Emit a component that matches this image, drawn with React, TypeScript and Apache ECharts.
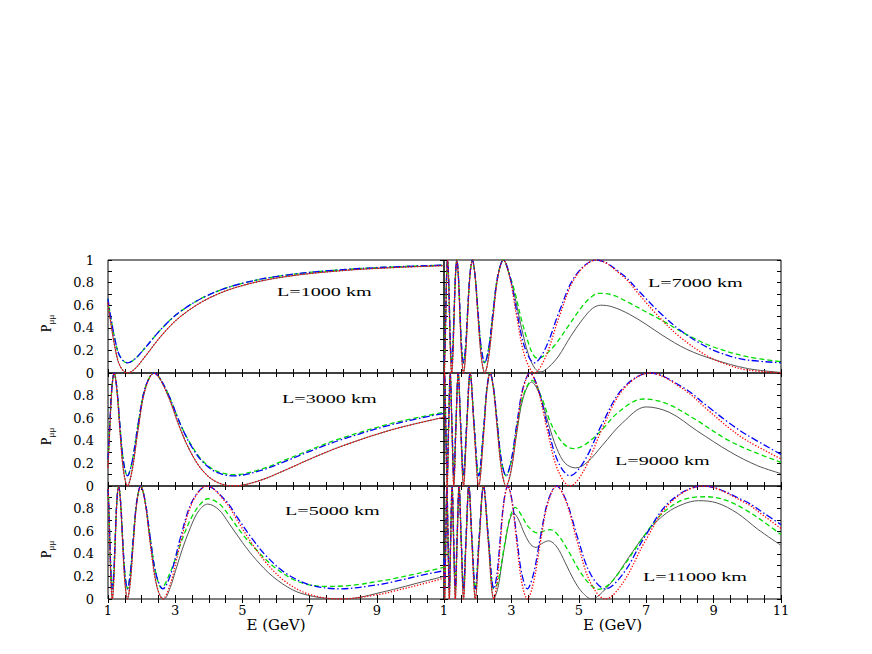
import React, { useEffect, useRef } from "react";
import * as echarts from "echarts";

// ---------- tick labels & panel titles ----------
const xTickLabelsLeft = ["1", "3", "5", "7", "9"];
const xTickLabelsRight = ["1", "3", "5", "7", "9", "11"];
const yTickLabels = ["0", "0.2", "0.4", "0.6", "0.8", "1"];
const panelTitles = ["L=1000 km", "L=3000 km", "L=5000 km", "L=7000 km", "L=9000 km", "L=11000 km"];
const xAxisTitle = "E (GeV)";

// ---------- L = 1000 km ----------
const L1000_red = [[1,0.624],[1.053,0.5],[1.263,0.146],[1.4,0.04],[1.579,0],[1.8,0.037],[2.105,0.146],[2.6,0.334],[3.158,0.5],[4,0.662],[5,0.774],[6.315,0.854],[8,0.907],[9.5,0.933],[11,0.95]];
const L1000_black = [[1,0.624],[1.053,0.5],[1.263,0.146],[1.4,0.04],[1.579,0],[1.8,0.037],[2.105,0.146],[2.6,0.334],[3.158,0.5],[4,0.662],[5,0.774],[6.315,0.854],[8,0.907],[9.5,0.933],[11,0.95]];
const L1000_blue = [[1,0.658],[1.053,0.545],[1.263,0.223],[1.4,0.126],[1.579,0.09],[1.8,0.124],[2.105,0.223],[2.6,0.394],[3.158,0.545],[4,0.692],[5,0.794],[6.315,0.867],[8,0.915],[9.5,0.939],[11,0.955]];
const L1000_green = [[1,0.658],[1.053,0.545],[1.263,0.223],[1.4,0.126],[1.579,0.09],[1.8,0.124],[2.105,0.223],[2.6,0.394],[3.158,0.545],[4,0.692],[5,0.794],[6.315,0.867],[8,0.915],[9.5,0.939],[11,0.955]];

// ---------- L = 3000 km ----------
const L3000_red = [[1,0.162],[1.053,0.5],[1.114,0.854],[1.184,1],[1.263,0.854],[1.353,0.5],[1.457,0.146],[1.579,0],[1.722,0.146],[1.895,0.5],[2.105,0.854],[2.368,1],[2.707,0.854],[3.158,0.5],[3.45,0.306],[3.789,0.146],[4.2,0.04],[4.737,0],[5.5,0.047],[6.315,0.146],[7.1,0.25],[8,0.357],[9.473,0.5],[11,0.608]];
const L3000_black = [[1,0.162],[1.053,0.5],[1.114,0.854],[1.184,1],[1.263,0.854],[1.353,0.5],[1.457,0.146],[1.579,0],[1.722,0.146],[1.895,0.5],[2.105,0.854],[2.368,1],[2.707,0.854],[3.158,0.5],[3.45,0.306],[3.789,0.146],[4.2,0.04],[4.737,0],[5.5,0.047],[6.315,0.146],[7.1,0.25],[8,0.357],[9.473,0.5],[11,0.608]];
const L3000_blue = [[1,0.237],[1.053,0.545],[1.114,0.867],[1.184,1],[1.263,0.867],[1.353,0.545],[1.457,0.223],[1.579,0.09],[1.722,0.223],[1.895,0.545],[2.105,0.867],[2.368,1],[2.707,0.867],[3.158,0.545],[3.45,0.368],[3.789,0.223],[4.2,0.126],[4.737,0.09],[5.5,0.133],[6.315,0.223],[7.1,0.318],[8,0.415],[9.473,0.545],[11,0.643]];
const L3000_green = [[1,0.237],[1.053,0.545],[1.114,0.867],[1.184,1],[1.263,0.867],[1.353,0.545],[1.457,0.223],[1.579,0.09],[1.722,0.223],[1.895,0.545],[2.105,0.867],[2.368,1],[2.707,0.867],[3.158,0.545],[3.45,0.378],[3.789,0.232],[4.2,0.136],[4.737,0.1],[5.5,0.143],[6.315,0.235],[7.1,0.33],[8,0.428],[9.473,0.556],[11,0.652]];

// ---------- L = 5000 km ----------
const L5000_lowRed = [[1,0.973],[1.019,0.854],[1.053,0.5],[1.089,0.146],[1.128,0],[1.17,0.146],[1.215,0.5],[1.263,0.854],[1.316,1],[1.373,0.854],[1.435,0.5],[1.504,0.146],[1.579,0],[1.662,0.146],[1.754,0.5],[1.857,0.854],[1.974,1],[2.105,0.854],[2.256,0.5],[2.429,0.146]];
const L5000_redHigh = [[2.631,0],[2.871,0.146],[3.158,0.5],[3.509,0.854],[3.947,1],[4.511,0.854],[4.85,0.695],[5.263,0.5],[5.75,0.306],[6.315,0.146],[7,0.04],[7.894,0],[9.022,0.038],[9.5,0.069],[10.526,0.146],[11,0.185]];
const L5000_blackHigh = [[2.55,0.03],[2.67,0],[2.85,0.1],[3.0,0.24],[3.2,0.43],[3.45,0.63],[3.7,0.78],[3.97,0.84],[4.3,0.79],[4.6,0.67],[5.0,0.5],[5.4,0.35],[5.9,0.2],[6.5,0.08],[7.0,0.03],[7.5,0.006],[8.0,0],[8.5,0.015],[9.0,0.05],[9.5,0.085],[10.2,0.14],[11,0.2]];
const L5000_lowBlue = [[1,0.975],[1.019,0.867],[1.053,0.545],[1.089,0.223],[1.128,0.09],[1.17,0.223],[1.215,0.545],[1.263,0.867],[1.316,1],[1.373,0.867],[1.435,0.545],[1.504,0.223],[1.579,0.09],[1.662,0.223],[1.754,0.545],[1.857,0.867],[1.974,1],[2.105,0.867],[2.256,0.545],[2.429,0.223]];
const L5000_blueHigh = [[2.631,0.09],[2.871,0.223],[3.158,0.545],[3.509,0.867],[3.947,1],[4.511,0.867],[4.85,0.722],[5.263,0.545],[5.75,0.368],[6.315,0.223],[7,0.126],[7.894,0.09],[9.022,0.125],[9.5,0.153],[10.526,0.223],[11,0.25]];
const L5000_greenHigh = [[2.6,0.095],[2.8,0.2],[3.0,0.35],[3.25,0.56],[3.5,0.73],[3.75,0.84],[3.97,0.887],[4.3,0.845],[4.6,0.74],[5.0,0.575],[5.4,0.44],[5.9,0.295],[6.5,0.175],[7.0,0.125],[7.5,0.112],[8.0,0.115],[8.5,0.13],[9.0,0.155],[9.5,0.18],[10.2,0.225],[11,0.28]];

// ---------- L = 7000 km ----------
const L7000_lowRed = [[1,0.007],[1.005,0],[1.028,0.146],[1.053,0.5],[1.078,0.854],[1.105,1],[1.134,0.854],[1.163,0.5],[1.195,0.146],[1.228,0],[1.263,0.146],[1.3,0.5],[1.34,0.854],[1.381,1],[1.426,0.854],[1.474,0.5],[1.524,0.146],[1.579,0],[1.637,0.146],[1.7,0.5],[1.768,0.854],[1.842,1],[1.922,0.854],[2.009,0.5],[2.105,0.146],[2.21,0],[2.327,0.146],[2.456,0.5],[2.6,0.854],[2.763,1],[2.947,0.854]];
const L7000_redHigh = [[3.158,0.5],[3.4,0.146],[3.684,0],[4.019,0.146],[4.421,0.5],[4.912,0.854],[5.526,1],[6.315,0.854],[6.8,0.691],[7.368,0.5],[8,0.319],[8.84,0.146],[9.5,0.064],[10,0.027],[11,0]];
const L7000_blackHigh = [[3.1,0.68],[3.3,0.4],[3.5,0.17],[3.7,0.04],[3.88,0.01],[4.1,0.05],[4.4,0.15],[4.75,0.32],[5.1,0.47],[5.4,0.57],[5.65,0.6],[6.0,0.585],[6.5,0.52],[7.0,0.43],[7.5,0.33],[8.2,0.21],[9.0,0.12],[10.0,0.04],[11,0.005]];
const L7000_lowBlue = [[1,0.096],[1.005,0.09],[1.028,0.223],[1.053,0.545],[1.078,0.867],[1.105,1],[1.134,0.867],[1.163,0.545],[1.195,0.223],[1.228,0.09],[1.263,0.223],[1.3,0.545],[1.34,0.867],[1.381,1],[1.426,0.867],[1.474,0.545],[1.524,0.223],[1.579,0.09],[1.637,0.223],[1.7,0.545],[1.768,0.867],[1.842,1],[1.922,0.867],[2.009,0.545],[2.105,0.223],[2.21,0.09],[2.327,0.223],[2.456,0.545],[2.6,0.867],[2.763,1],[2.947,0.867]];
const L7000_blueHigh = [[3.158,0.545],[3.4,0.223],[3.684,0.09],[4.019,0.223],[4.421,0.545],[4.912,0.867],[5.526,1],[6.315,0.867],[6.8,0.719],[7.368,0.545],[8,0.38],[8.84,0.223],[9.5,0.148],[10,0.115],[11,0.09]];
const L7000_greenHigh = [[3.1,0.72],[3.3,0.47],[3.5,0.27],[3.65,0.16],[3.78,0.13],[4.0,0.16],[4.3,0.25],[4.7,0.42],[5.1,0.59],[5.4,0.68],[5.6,0.705],[6.0,0.69],[6.5,0.62],[7.0,0.54],[7.5,0.46],[8.2,0.34],[9.0,0.23],[10.0,0.145],[11,0.1]];

// ---------- L = 9000 km ----------
const L9000_lowRed = [[1,0.896],[1.015,1],[1.053,0.5],[1.093,0],[1.137,0.5],[1.184,1],[1.236,0.5],[1.292,0],[1.353,0.5],[1.421,1],[1.496,0.5],[1.579,0],[1.672,0.5],[1.776,1],[1.895,0.5],[2.03,0],[2.186,0.5],[2.274,0.854],[2.368,1],[2.471,0.854],[2.584,0.5],[2.707,0.146],[2.842,0]];
const L9000_redHigh = [[2.991,0.146],[3.158,0.5],[3.343,0.854],[3.552,1],[3.789,0.854],[4.06,0.5],[4.372,0.146],[4.737,0],[5.167,0.146],[5.684,0.5],[6.315,0.854],[7.105,1],[8.12,0.854],[8.8,0.68],[9.473,0.51],[10,0.4],[11,0.24]];
const L9000_blackHigh = [[2.99,0.13],[3.16,0.47],[3.35,0.78],[3.6,0.92],[3.85,0.8],[4.1,0.55],[4.35,0.33],[4.6,0.2],[4.91,0.16],[5.25,0.21],[5.7,0.36],[6.3,0.56],[7.0,0.7],[7.7,0.65],[8.5,0.49],[9.5,0.3],[10.3,0.18],[11,0.11]];
const L9000_lowBlue = [[1,0.905],[1.015,1],[1.053,0.545],[1.093,0.09],[1.137,0.545],[1.184,1],[1.236,0.545],[1.292,0.09],[1.353,0.545],[1.421,1],[1.496,0.545],[1.579,0.09],[1.672,0.545],[1.776,1],[1.895,0.545],[2.03,0.09],[2.186,0.545],[2.274,0.867],[2.368,1],[2.471,0.867],[2.584,0.545],[2.707,0.223],[2.842,0.09]];
const L9000_blueHigh = [[2.991,0.223],[3.158,0.545],[3.343,0.867],[3.552,1],[3.789,0.867],[4.06,0.545],[4.372,0.223],[4.737,0.09],[5.167,0.223],[5.684,0.545],[6.315,0.867],[7.105,1],[8.12,0.867],[8.8,0.71],[9.473,0.555],[10,0.45],[11,0.28]];
const L9000_greenHigh = [[2.99,0.21],[3.16,0.52],[3.35,0.8],[3.62,0.935],[3.9,0.78],[4.15,0.57],[4.4,0.43],[4.62,0.355],[4.84,0.33],[5.15,0.36],[5.6,0.47],[6.2,0.66],[6.92,0.77],[7.6,0.73],[8.4,0.6],[9.4,0.41],[10.2,0.3],[11,0.21]];

// ---------- L = 11000 km ----------
const L11000_lowRed = [[1,0.297],[1.022,0],[1.053,0.5],[1.085,1],[1.12,0.5],[1.158,0],[1.198,0.5],[1.241,1],[1.286,0.5],[1.336,0],[1.389,0.5],[1.447,1],[1.51,0.5],[1.579,0],[1.654,0.5],[1.737,1],[1.828,0.5],[1.93,0],[2.043,0.5],[2.171,1],[2.316,0.5],[2.481,0]];
const L11000_redHigh = [[2.573,0.146],[2.672,0.5],[2.779,0.854],[2.894,1],[3.02,0.854],[3.158,0.5],[3.308,0.146],[3.473,0],[3.656,0.146],[3.859,0.5],[4.086,0.854],[4.342,1],[4.631,0.854],[4.962,0.5],[5.344,0.146],[5.789,0],[6.315,0.146],[6.947,0.5],[7.719,0.854],[8.684,1],[9.924,0.854],[10.5,0.734],[11,0.624]];
const L11000_blackHigh = [[2.6,0.1],[2.72,0.32],[2.85,0.56],[2.96,0.71],[3.06,0.76],[3.2,0.71],[3.4,0.57],[3.58,0.48],[3.73,0.457],[3.9,0.49],[4.1,0.515],[4.35,0.46],[4.6,0.32],[4.85,0.17],[5.1,0.06],[5.39,0],[5.7,0.06],[6.1,0.2],[6.6,0.42],[7.1,0.62],[7.6,0.76],[8.1,0.84],[8.55,0.87],[9.1,0.85],[9.7,0.76],[10.3,0.62],[11,0.475]];
const L11000_lowBlue = [[1,0.36],[1.022,0.09],[1.053,0.545],[1.085,1],[1.12,0.545],[1.158,0.09],[1.198,0.545],[1.241,1],[1.286,0.545],[1.336,0.09],[1.389,0.545],[1.447,1],[1.51,0.545],[1.579,0.09],[1.654,0.545],[1.737,1],[1.828,0.545],[1.93,0.09],[2.043,0.545],[2.171,1],[2.316,0.545],[2.481,0.09]];
const L11000_blueHigh = [[2.573,0.223],[2.672,0.545],[2.779,0.867],[2.894,1],[3.02,0.867],[3.158,0.545],[3.308,0.223],[3.473,0.09],[3.656,0.223],[3.859,0.545],[4.086,0.867],[4.342,1],[4.631,0.867],[4.962,0.545],[5.344,0.223],[5.789,0.09],[6.315,0.223],[6.947,0.545],[7.719,0.867],[8.684,1],[9.924,0.867],[10.5,0.758],[11,0.658]];
const L11000_greenHigh = [[2.6,0.15],[2.75,0.4],[2.9,0.65],[3.0,0.76],[3.11,0.81],[3.3,0.74],[3.5,0.64],[3.77,0.585],[3.95,0.6],[4.15,0.614],[4.4,0.56],[4.7,0.42],[5.0,0.26],[5.3,0.14],[5.58,0.086],[5.9,0.13],[6.35,0.3],[6.85,0.52],[7.35,0.72],[7.9,0.85],[8.4,0.9],[8.8,0.905],[9.4,0.87],[10.0,0.78],[10.5,0.68],[11,0.57]];

// ---------- panel data (col 0 = left, col 1 = right) ----------
const panelData = [
  { title: panelTitles[0], col: 0, row: 0, black: L1000_black, green: L1000_green, blue: L1000_blue, red: L1000_red },
  { title: panelTitles[1], col: 0, row: 1, black: L3000_black, green: L3000_green, blue: L3000_blue, red: L3000_red },
  { title: panelTitles[2], col: 0, row: 2, black: [...L5000_lowRed, ...L5000_blackHigh], green: [...L5000_lowBlue, ...L5000_greenHigh], blue: [...L5000_lowBlue, ...L5000_blueHigh], red: [...L5000_lowRed, ...L5000_redHigh] },
  { title: panelTitles[3], col: 1, row: 0, black: [...L7000_lowRed, ...L7000_blackHigh], green: [...L7000_lowBlue, ...L7000_greenHigh], blue: [...L7000_lowBlue, ...L7000_blueHigh], red: [...L7000_lowRed, ...L7000_redHigh] },
  { title: panelTitles[4], col: 1, row: 1, black: [...L9000_lowRed, ...L9000_blackHigh], green: [...L9000_lowBlue, ...L9000_greenHigh], blue: [...L9000_lowBlue, ...L9000_blueHigh], red: [...L9000_lowRed, ...L9000_redHigh] },
  { title: panelTitles[5], col: 1, row: 2, black: [...L11000_lowRed, ...L11000_blackHigh], green: [...L11000_lowBlue, ...L11000_greenHigh], blue: [...L11000_lowBlue, ...L11000_blueHigh], red: [...L11000_lowRed, ...L11000_redHigh] },
];

// ---------- layout ----------
const COL_LEFT = [108, 444];
const COL_WIDTH = [336, 337];
const ROW_TOP = [260, 373, 486];
const ROW_HEIGHT = 113;
const TITLE_POS = [
  [277, 292],
  [282, 399],
  [285, 511],
  [648, 283],
  [615, 461],
  [643, 577],
];

const LINE_STYLES = [
  { key: "black", color: "#555555", width: 1, type: "solid" as any },
  { key: "green", color: "#00dd00", width: 1.3, type: [5, 3] as any },
  { key: "blue", color: "#0000ff", width: 1.3, type: [7, 2.5, 1.5, 2.5] as any },
  { key: "red", color: "#ff0000", width: 1.3, type: [1.3, 1.7] as any },
];

const TICK_FONT = "DejaVu Serif";

function buildOption() {
  const grid: any[] = [];
  const xAxis: any[] = [];
  const yAxis: any[] = [];
  const series: any[] = [];
  const graphic: any[] = [];

  panelData.forEach((p, i) => {
    grid.push({
      left: COL_LEFT[p.col],
      top: ROW_TOP[p.row],
      width: COL_WIDTH[p.col],
      height: ROW_HEIGHT,
      show: true,
      borderColor: "#000",
      borderWidth: 1,
      backgroundColor: "transparent",
      containLabel: false,
    });
    const tick = { show: true, inside: true, length: 4, lineStyle: { color: "#000", width: 1 } };
    const xLabels = p.col === 0 ? xTickLabelsLeft : xTickLabelsRight;
    const bottomRow = p.row === 2;
    xAxis.push({
      gridIndex: i,
      type: "value",
      min: 1,
      max: 11,
      interval: 0.5,
      position: "bottom",
      axisLine: { show: false },
      axisTick: tick,
      splitLine: { show: false },
      axisLabel: bottomRow
        ? {
            show: true,
            margin: 5,
            color: "#000",
            fontFamily: TICK_FONT,
            fontSize: 13,
            formatter: (v: number) => {
              const s = String(v);
              return xLabels.indexOf(s) >= 0 ? s : "";
            },
          }
        : { show: false },
      name: bottomRow ? xAxisTitle : "",
      nameLocation: "middle",
      nameGap: 17,
      nameTextStyle: { color: "#000", fontFamily: TICK_FONT, fontSize: 15 },
    });
    xAxis.push({
      gridIndex: i,
      type: "value",
      min: 1,
      max: 11,
      interval: 0.5,
      position: "top",
      axisLine: { show: false },
      axisTick: tick,
      splitLine: { show: false },
      axisLabel: { show: false },
    });
    const showTop = p.row === 0;
    yAxis.push({
      gridIndex: i,
      type: "value",
      min: 0,
      max: 1,
      interval: 0.1,
      position: "left",
      axisLine: { show: false },
      axisTick: tick,
      splitLine: { show: false },
      axisLabel:
        p.col === 0
          ? {
              show: true,
              margin: 14,
              color: "#000",
              fontFamily: TICK_FONT,
              fontSize: 13,
              formatter: (v: number) => {
                const r = Math.round(v * 10);
                if (r % 2 !== 0) return "";
                if (r === 10 && !showTop) return "";
                return yTickLabels[r / 2];
              },
            }
          : { show: false },
      name: p.col === 0 ? "{p|P}{s|μμ}" : "",
      nameLocation: "middle",
      nameRotate: 90,
      nameGap: 53,
      nameTextStyle: {
        color: "#000",
        padding: [0, 14, 0, 0],
        rich: {
          p: { fontFamily: "Liberation Serif", fontSize: 14, lineHeight: 18, verticalAlign: "middle", color: "#000" },
          s: { fontFamily: "Liberation Serif", fontSize: 9, lineHeight: 9, verticalAlign: "bottom", color: "#000" },
        },
      },
    });
    yAxis.push({
      gridIndex: i,
      type: "value",
      min: 0,
      max: 1,
      interval: 0.1,
      position: "right",
      axisLine: { show: false },
      axisTick: tick,
      splitLine: { show: false },
      axisLabel: { show: false },
    });

    LINE_STYLES.forEach((ls, k) => {
      series.push({
        type: "line",
        name: `${p.title} ${ls.key}`,
        xAxisIndex: 2 * i,
        yAxisIndex: 2 * i,
        data: (p as any)[ls.key],
        symbol: "none",
        showSymbol: false,
        smooth: 0.35,
        clip: true,
        silent: true,
        z: 2 + k,
        lineStyle: { color: ls.color, width: ls.width, type: ls.type },
      });
    });

    graphic.push({
      type: "text",
      x: TITLE_POS[i][0],
      y: TITLE_POS[i][1],
      scaleX: 1.55,
      silent: true,
      style: {
        text: p.title,
        fill: "#000",
        font: '13px "Liberation Serif"',
        textAlign: "left",
        textVerticalAlign: "middle",
        align: "left",
        verticalAlign: "middle",
      },
    });
  });

  return {
    animation: false,
    backgroundColor: "#fff",
    textStyle: { fontFamily: "Liberation Serif" },
    grid,
    xAxis,
    yAxis,
    series,
    graphic,
  };
}

export default function App() {
  const ref = useRef<HTMLDivElement>(null);
  useEffect(() => {
    if (!ref.current) return;
    const chart = echarts.init(ref.current, null, { renderer: "svg" });
    chart.setOption(buildOption() as any);
    return () => {
      chart.dispose();
    };
  }, []);
  return (
    <div
      ref={ref}
      style={{ position: "fixed", left: 0, top: 0, width: 872, height: 654, background: "#fff" }}
    />
  );
}
